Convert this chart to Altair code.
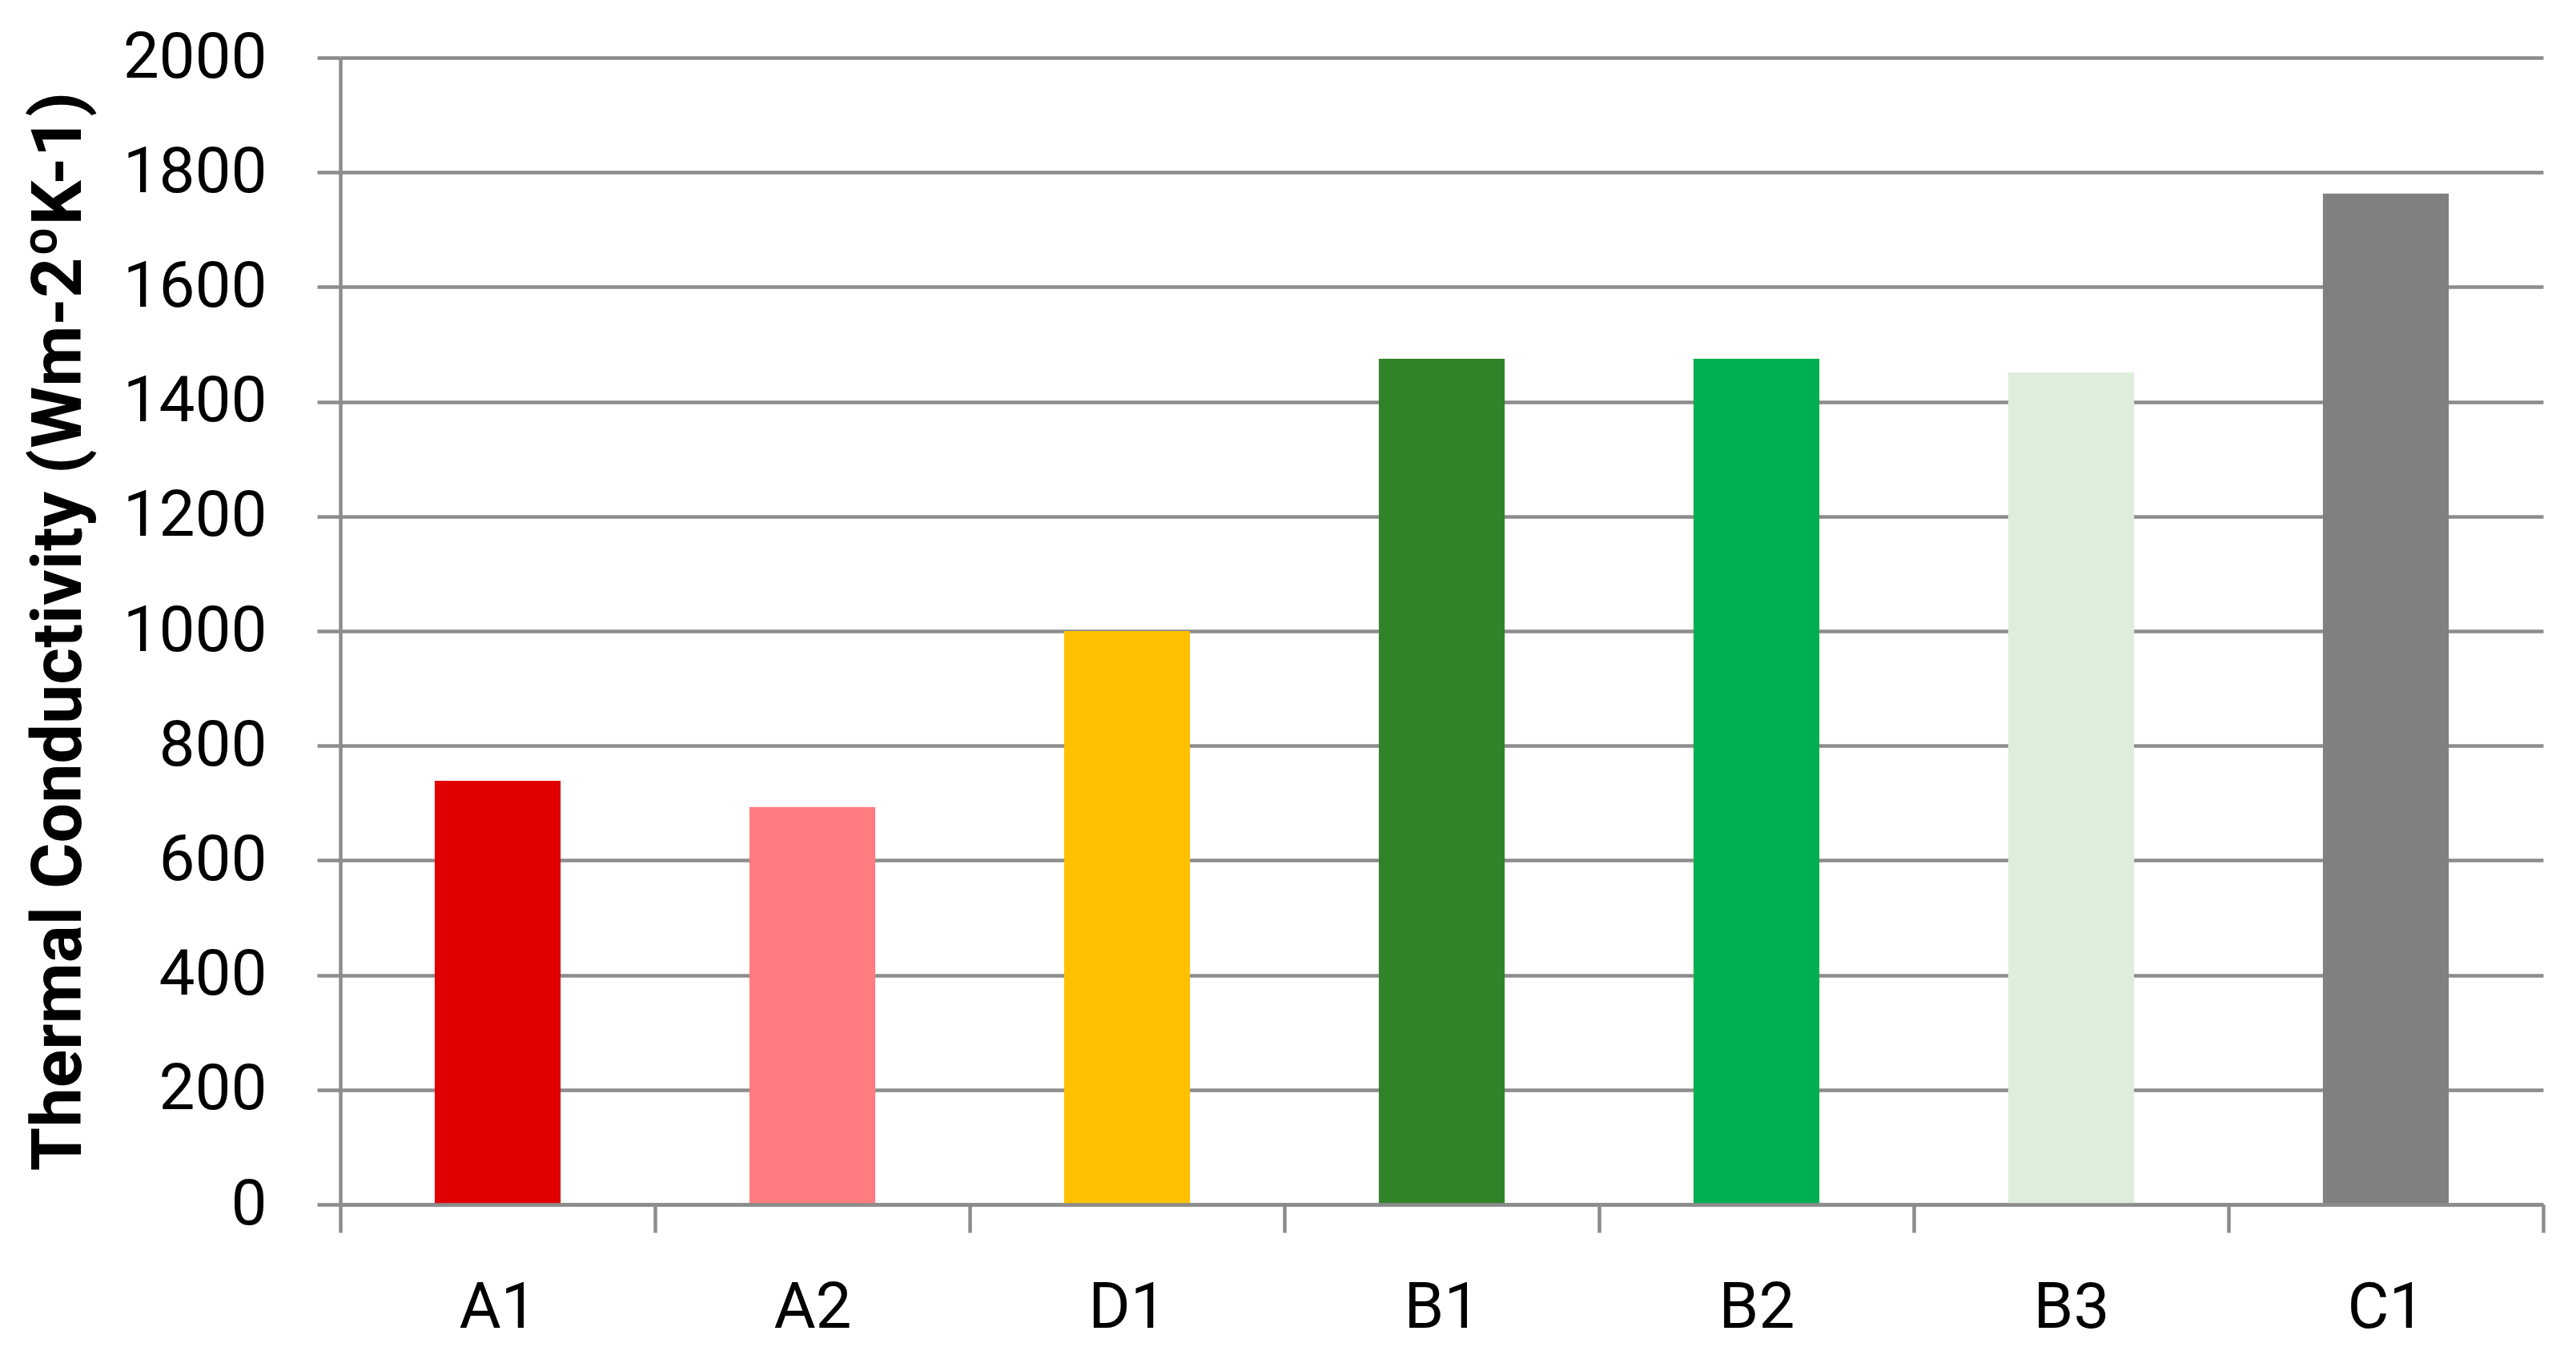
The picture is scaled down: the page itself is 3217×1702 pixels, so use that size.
import altair as alt
import pandas as pd

categories = ["A1", "A2", "D1", "B1", "B2", "B3", "C1"]
values = [739, 693, 1000, 1475, 1475, 1451, 1763]
colors = ["#E00000", "#FF7C80", "#FFC000", "#31832A", "#00B050", "#DDEFDA", "#808080"]
y_ticks = [0, 200, 400, 600, 800, 1000, 1200, 1400, 1600, 1800, 2000]

df = pd.DataFrame({"sample": categories, "k": values})

grid_color = "#8C8C8C"
line_w = 4.5

chart = alt.Chart(df).mark_bar(width=alt.RelativeBandSize(0.4)).encode(
    x=alt.X(
        "sample:N",
        sort=categories,
        title=None,
        scale=alt.Scale(paddingInner=0, paddingOuter=0),
        axis=alt.Axis(
            labelAngle=0,
            tickBand="extent",
            ticks=True,
            tickSize=35,
            tickWidth=line_w,
            tickColor=grid_color,
            domainColor=grid_color,
            domainWidth=line_w,
            labelFont="Roboto",
            labelFontSize=80,
            labelColor="black",
            labelPadding=55,
            grid=False,
            zindex=1,
        ),
    ),
    y=alt.Y(
        "k:Q",
        scale=alt.Scale(domain=[0, 2000], nice=False),
        axis=alt.Axis(
            values=y_ticks,
            format="d",
            title="Thermal Conductivity (Wm-2ºK-1)",
            titleFont="Roboto",
            titleFontSize=88,
            titleFontWeight="bold",
            titleColor="black",
            titleX=-325,
            titleY=716,
            titleAngle=-90,
            titleBaseline="alphabetic",
            titleAlign="center",
            labelFont="Roboto",
            labelFontSize=80,
            labelColor="black",
            labelPadding=63,
            tickSize=29,
            tickWidth=line_w,
            tickColor=grid_color,
            grid=True,
            gridColor=grid_color,
            gridWidth=line_w,
            domainColor=grid_color,
            domainWidth=line_w,
        ),
    ),
    color=alt.Color(
        "sample:N",
        scale=alt.Scale(domain=categories, range=colors),
        legend=None,
    ),
).properties(
    width=2751,
    height=1432,
    padding={"left": 417, "top": 64, "right": 30, "bottom": 180},
    autosize=alt.AutoSizeParams(type="none"),
).configure_view(stroke=None)

chart.save("out.html", embed_options={"renderer": "svg", "actions": False})
